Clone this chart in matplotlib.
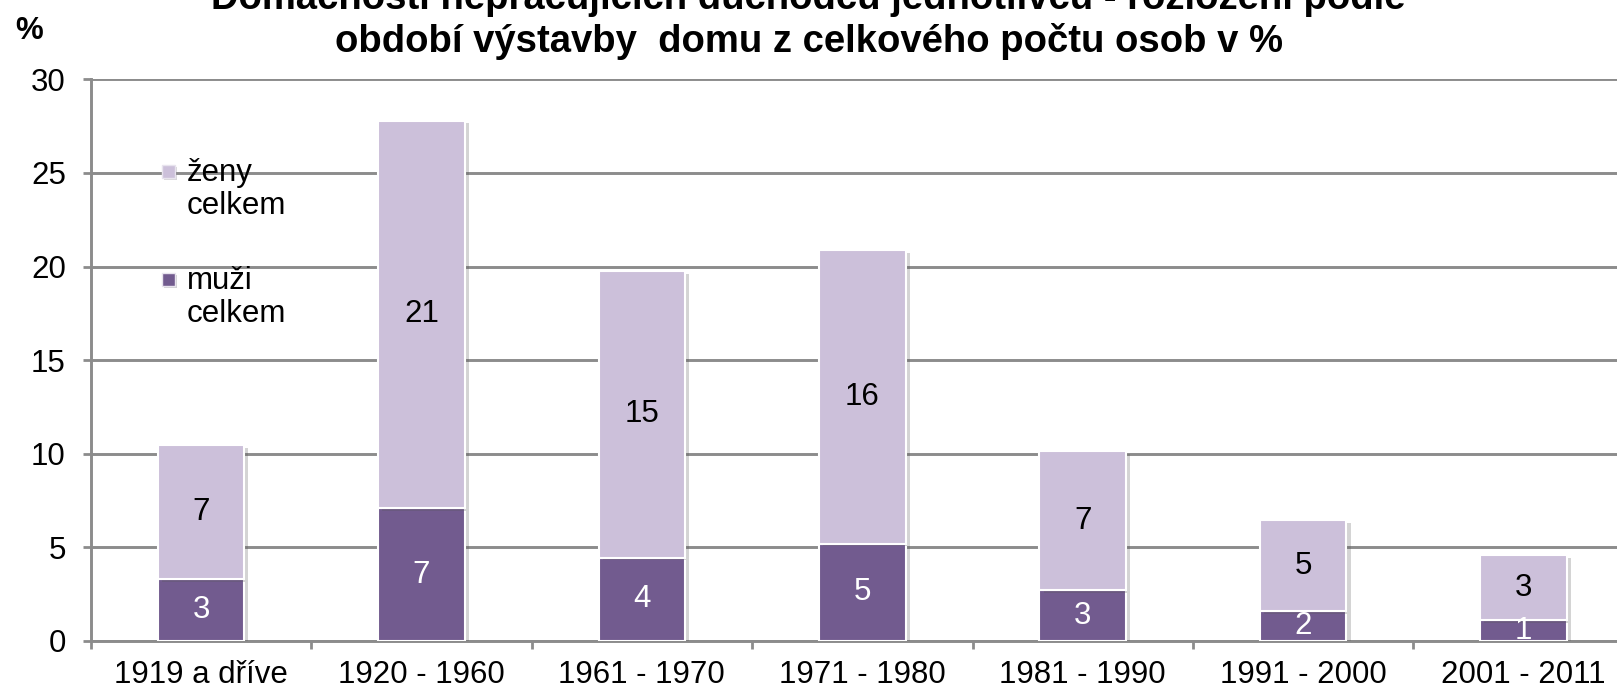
import matplotlib
matplotlib.use("Agg")
import matplotlib.pyplot as plt
import matplotlib.patheffects as pe
from matplotlib.patches import Rectangle
import numpy as np

categories = ["1919 a dříve", "1920 - 1960", "1961 - 1970", "1971 - 1980",
              "1981 - 1990", "1991 - 2000", "2001 - 2011"]
muzi = [3.3, 7.1, 4.45, 5.2, 2.7, 1.6, 1.1]
zeny = [7.16, 20.7, 15.3, 15.7, 7.43, 4.84, 3.47]
muzi_labels = ["3", "7", "4", "5", "3", "2", "1"]
zeny_labels = ["7", "21", "15", "16", "7", "5", "3"]
yticks = [0, 5, 10, 15, 20, 25, 30]
series_names = ["ženy", "muži"]

plt.rcParams['font.family'] = ['Liberation Sans', 'DejaVu Sans']
FS = 22.5

W, H = 1617, 693
fig = plt.figure(figsize=(W / 100, H / 100), dpi=100)
ax_l, ax_b, ax_w, ax_h = 90.8, 641, 1543, 561.6
ax = fig.add_axes([ax_l / W, 1 - ax_b / H, ax_w / W, ax_h / H])

x = np.arange(len(categories))
grid_c = "#8C8C8C"
c_m = "#725B8F"
c_z = "#CCC0DA"
shadow = [pe.withSimplePatchShadow(offset=(3, -2), alpha=0.25, shadow_rgbFace="#555555")]

ax.set_ylim(0, 30)
ax.set_xlim(-0.5, len(categories) - 0.5)
ax.set_yticks(yticks)
ax.yaxis.grid(True, color=grid_c, linewidth=2.1)
ax.set_axisbelow(True)

bm = ax.bar(x, muzi, width=0.393, color=c_m, edgecolor="white", linewidth=1.5,
            zorder=3, path_effects=shadow)
bz = ax.bar(x, zeny, width=0.393, bottom=muzi, color=c_z, edgecolor="white",
            linewidth=1.5, zorder=3, path_effects=shadow)

for xi, m, z, ml, zl in zip(x, muzi, zeny, muzi_labels, zeny_labels):
    ax.text(xi, m / 2, ml, ha="center", va="center", color="white", fontsize=FS, zorder=4)
    ax.text(xi, m + z / 2, zl, ha="center", va="center", color="black", fontsize=FS, zorder=4)

for s in ["top", "right"]:
    ax.spines[s].set_visible(False)
for s in ["left", "bottom"]:
    ax.spines[s].set_color(grid_c)
    ax.spines[s].set_linewidth(2.1)

ax.set_xticks(x)
ax.set_xticklabels(categories, fontsize=FS)
ax.set_xticks(np.arange(-0.5, len(categories) + 0.5, 1), minor=True)
ax.tick_params(axis="x", which="major", length=0, pad=14)
ax.tick_params(axis="x", which="minor", length=6, width=2, color=grid_c)
ax.tick_params(axis="y", length=6, width=2, color=grid_c, labelsize=FS, pad=12)

# legend (inside plot, no frame), square next to first line of each label
def ax_xy(px, py):
    return ((px - ax_l) / ax_w, (ax_b - py) / ax_h)

legend_items = [(series_names[0], c_z, 171), (series_names[1], c_m, 279)]
sq = 13
for name, col, py in legend_items:
    sx, sy = ax_xy(162, py + sq / 2)
    ax.add_patch(Rectangle((sx, sy), sq / ax_w, sq / ax_h, transform=ax.transAxes,
                           facecolor=col, edgecolor="#E8E4EE", linewidth=1, zorder=5,
                           path_effects=[pe.withSimplePatchShadow(offset=(1.5, -1.5), alpha=0.2)]))
    tx, ty = ax_xy(187, py + 2)
    ax.text(tx, ty, name, transform=ax.transAxes, ha="left", va="center",
            fontsize=FS, zorder=5)
    tx, ty = ax_xy(187, py + 35)
    ax.text(tx, ty, "celkem", transform=ax.transAxes, ha="left", va="center",
            fontsize=FS, zorder=5)

fig.text(0.5, 1 - 9 / H, "Domácnosti nepracujících důchodců jednotlivců - rozložení podle",
         ha="center", va="baseline", fontsize=27.5, fontweight="bold")
fig.text(0.5, 1 - 52 / H, "období výstavby  domu z celkového počtu osob v %",
         ha="center", va="baseline", fontsize=27.5, fontweight="bold")
fig.text(29 / W, 1 - 31 / H, "%", ha="center", va="center", fontsize=FS, fontweight="bold")

fig.savefig("out.png", dpi=100)
